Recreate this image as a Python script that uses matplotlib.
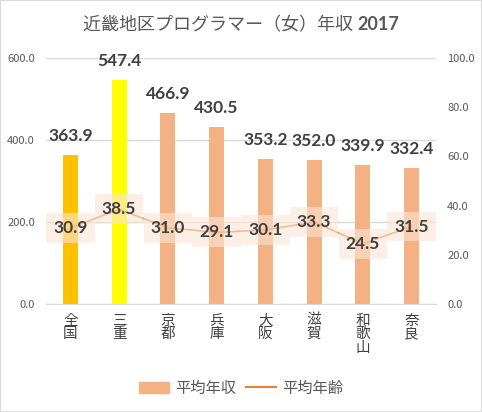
import matplotlib.pyplot as plt
from matplotlib.patches import Patch
import numpy as np

plt.rcParams['font.family'] = ['Noto Sans CJK JP', 'DejaVu Sans']

prefectures = ["全\n国", "三\n重", "京\n都", "兵\n庫", "大\n阪", "滋\n賀", "和\n歌\n山", "奈\n良"]
income = [363.9, 547.4, 466.9, 430.5, 353.2, 352.0, 339.9, 332.4]
age = [30.9, 38.5, 31.0, 29.1, 30.1, 33.3, 24.5, 31.5]
bar_colors = ["#FFC000", "#FFFF00"] + ["#F4B183"] * 6

fig = plt.figure(figsize=(4.82, 4.12), dpi=100)
fig.patches.append(plt.Rectangle((0, 0), 1, 1, transform=fig.transFigure,
                                 fill=False, edgecolor="#d9d9d9", linewidth=1.5))
ax = fig.add_axes([46 / 482, 1 - 304 / 412, 390 / 482, 246 / 412])
ax2 = ax.twinx()

x = np.arange(len(prefectures))
ax.bar(x, income, width=0.31, color=bar_colors, zorder=2)
ax.set_xlim(-0.5, len(x) - 0.5)
ax.set_ylim(0, 600)
ax.set_yticks([0, 200, 400, 600])
ax.set_yticklabels([f"{v:.1f}" for v in [0, 200, 400, 600]])
ax.grid(axis="y", color="#d9d9d9", linewidth=1, zorder=0)
ax.set_axisbelow(True)
ax.set_xticks(x)
ax.set_xticklabels(prefectures, linespacing=0.95)

for xi, v in zip(x, income):
    ax.annotate(f"{v:.1f}", (xi, v), xytext=(0, 14), textcoords="offset pixels",
                ha="center", va="baseline", fontsize=12.5, fontweight="bold",
                color="#404040", family="Lato")

ax2.plot(x, age, color="#ED7D31", linewidth=1.2, zorder=3)
ax2.set_ylim(0, 100)
ax2.set_yticks(np.arange(0, 101, 20))
ax2.set_yticklabels([f"{v:.1f}" for v in np.arange(0, 101, 20)])
for xi, v in zip(x, age):
    ax2.text(xi, v, f"{v:.1f}", ha="center", va="center", fontsize=12.5,
             fontweight="bold", color="#404040", family="Lato", zorder=4,
             bbox=dict(boxstyle="square,pad=0.4", facecolor="#FBE5D6",
                       edgecolor="none", alpha=0.6))

for a in (ax, ax2):
    for s in a.spines.values():
        s.set_visible(False)
    a.tick_params(length=0, labelsize=8, labelcolor="#595959")
ax.spines["bottom"].set_visible(True)
ax.spines["bottom"].set_color("#d9d9d9")
ax.tick_params(axis="x", labelsize=10.5, labelcolor="#404040", pad=7)
ax.tick_params(axis="y", pad=8)
ax2.tick_params(axis="y", pad=8)

# title: japanese part normal, year bold
title_y = 1 - 25 / 412
t1 = fig.text(0.5, title_y, "近畿地区プログラマー（女）年収 ", ha="right", va="center",
              fontsize=13, color="#595959")
t2 = fig.text(0.5, title_y, "2017", ha="left", va="center", fontsize=13,
              fontweight="bold", color="#595959", family="Lato")
renderer = fig.canvas.get_renderer()
w1 = t1.get_window_extent(renderer).width / fig.bbox.width
w2 = t2.get_window_extent(renderer).width / fig.bbox.width
shift = (w1 - w2) / 2
t1.set_x(0.5 + shift)
t2.set_x(0.5 + shift)

handles = [Patch(color="#F4B183"), plt.Line2D([], [], color="#ED7D31", linewidth=1.5)]
fig.legend(handles, ["平均年収", "平均年齢"], loc="center", bbox_to_anchor=(0.5, 1 - 388 / 412),
           ncol=2, frameon=False, fontsize=11, labelcolor="#595959",
           handlelength=2.0, columnspacing=0.6, handletextpad=0.4)

fig.savefig("out.png", dpi=100)
